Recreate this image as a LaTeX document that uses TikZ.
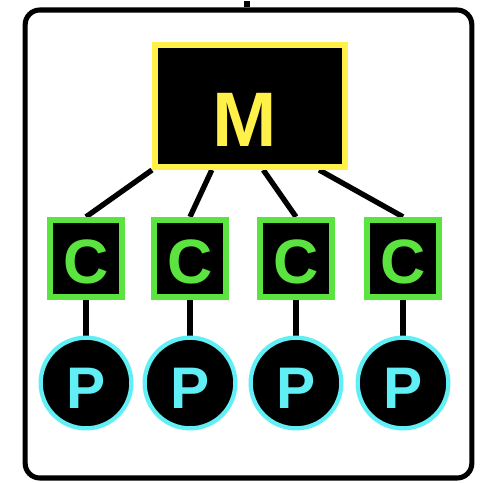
\documentclass[tikz,border=0pt]{standalone}
\usepackage{fontspec}
\setmainfont{Liberation Sans}
\usetikzlibrary{calc,backgrounds}
\definecolor{myyellow}{HTML}{FFF04A}
\definecolor{mygreen}{HTML}{5BE33F}
\definecolor{mycyan}{HTML}{5FEFF5}
\tikzset{
  frame/.style={draw=black, line width=3.8pt, rounded corners=11pt,
    minimum width=335pt, minimum height=351pt, inner sep=0pt},
  mbox/.style={draw=myyellow, fill=black, line width=4.5pt,
    minimum width=142.5pt, minimum height=91.5pt, inner sep=0pt},
  cbox/.style={draw=mygreen, fill=black, line width=4.5pt,
    minimum width=54pt, minimum height=58pt, inner sep=0pt},
  pcirc/.style={circle, draw=mycyan, fill=black, line width=3.2pt,
    minimum size=68pt, inner sep=0pt},
  mlabel/.style={text=myyellow, font=\bfseries\fontsize{58}{58}\selectfont, inner sep=0pt},
  clabel/.style={text=mygreen, font=\bfseries\fontsize{47}{47}\selectfont, inner sep=0pt},
  plabel/.style={text=mycyan, font=\bfseries\fontsize{44}{44}\selectfont, inner sep=0pt},
  link/.style={draw=black, line width=4pt},
}
\begin{document}
\begin{tikzpicture}[x=0.75pt, y=-0.75pt]
  \useasboundingbox (0,0) rectangle (480,483);
  % enclosing frame with its outgoing stub
  \node[frame] (frame) at (248.5,244) {};
  \coordinate (exit) at (247,1);
  \draw[link, line width=3.8pt] (frame.north -| exit) -- (exit);

  % manager
  \node[mbox] (M) at (250,106) {};
  \node[mlabel] (Mtext) at (245,120) {M};

  % children and their processes
  \foreach \i/\x in {1/86, 2/190, 3/296, 4/403} {
    \node[cbox] (C\i) at (\x,258.5) {};
    \node[clabel] (Ct\i) at (\x,262) {C};
    \node[pcirc] (P\i) at (\x,383) {};
    \node[plabel] (Pt\i) at (\x,388) {P};
  }

  \begin{scope}[on background layer]
    \foreach \i/\f in {1/0, 2/0.305, 3/0.568, 4/0.853}
      \draw[link] ($(M.south west)!\f!(M.south east)$) -- (C\i.north);
    \foreach \i in {1,...,4}
      \draw[link] (C\i.south) -- (P\i.north);
  \end{scope}
\end{tikzpicture}
\end{document}
